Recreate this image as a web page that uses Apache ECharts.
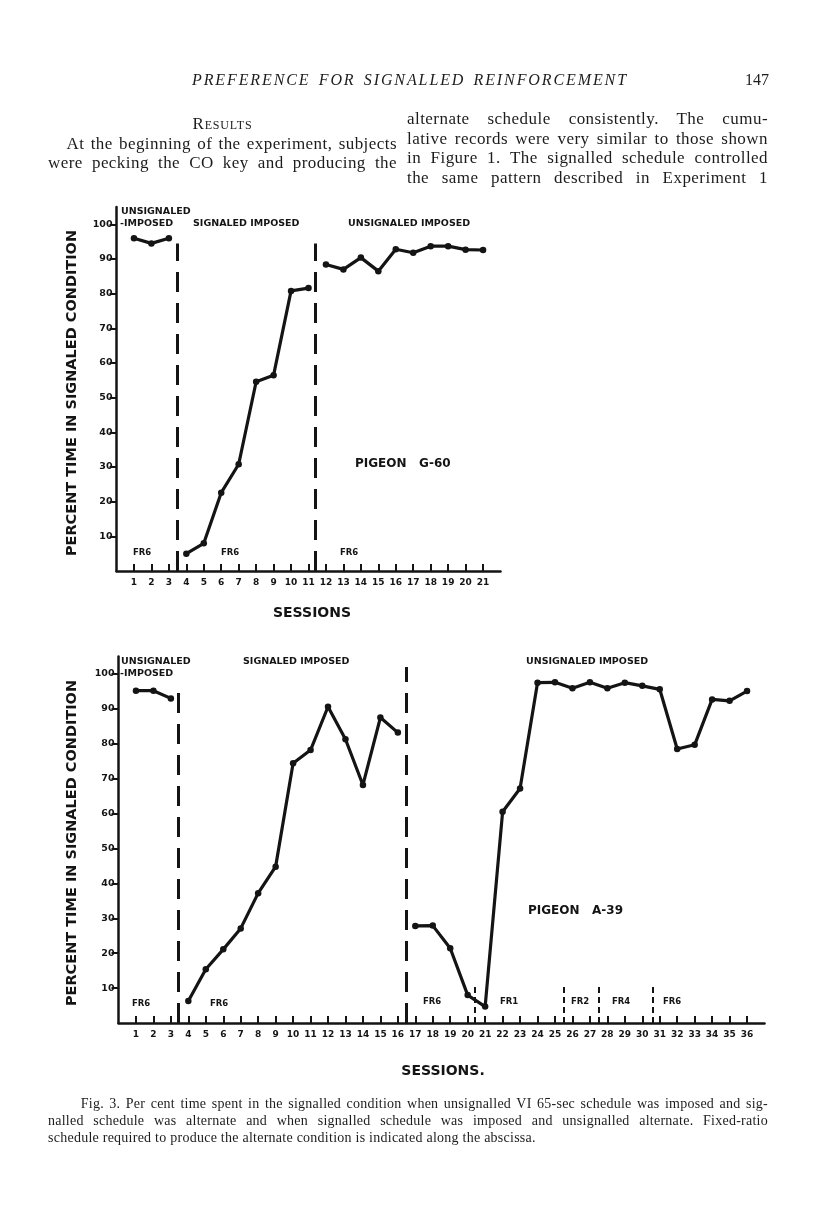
<!DOCTYPE html>
<html>
<head>
<meta charset="utf-8">
<script src="https://cdn.jsdelivr.net/npm/echarts@6/dist/echarts.min.js"></script>
<style>
body { margin: 0; background: #fff; }
#page { position: relative; width: 816px; height: 1207px; overflow: hidden; }
#chart { position: absolute; left: 0; top: 0; width: 816px; height: 1207px; }
.t { position: absolute; font-family: "Liberation Serif", serif; color: #1c1c1c; white-space: nowrap; }
.j { text-align: justify; text-align-last: justify; }
.body { font-size: 17px; line-height: 19px; letter-spacing: 0.45px; }
.cap { font-size: 14px; line-height: 16px; letter-spacing: 0.25px; }
</style>
</head>
<body>
<div id="page">
  <div id="chart"></div>

  <div class="t j" style="left:192px;top:71px;width:436px;font-size:16px;font-style:italic;letter-spacing:1.9px;">PREFERENCE FOR SIGNALLED REINFORCEMENT</div>
  <div class="t" style="left:745px;top:71px;font-size:16px;">147</div>

  <div class="t body" style="left:48px;top:114px;width:349px;text-align:center;font-variant:small-caps;letter-spacing:0.8px;">Results</div>
  <div class="t body j" style="left:48px;top:134px;width:349px;">&nbsp;&nbsp;&nbsp;At the beginning of the experiment, subjects</div>
  <div class="t body j" style="left:48px;top:153px;width:349px;">were pecking the CO key and producing the</div>

  <div class="t body j" style="left:407px;top:109px;width:361px;">alternate schedule consistently. The cumu-</div>
  <div class="t body j" style="left:407px;top:129px;width:361px;">lative records were very similar to those shown</div>
  <div class="t body j" style="left:407px;top:148px;width:361px;">in Figure 1. The signalled schedule controlled</div>
  <div class="t body j" style="left:407px;top:168px;width:361px;">the same pattern described in Experiment 1</div>

  <div class="t cap j" style="left:48px;top:1096px;width:720px;">&nbsp;&nbsp;&nbsp;&nbsp;&nbsp;&nbsp;Fig. 3. Per cent time spent in the signalled condition when unsignalled VI 65-sec schedule was imposed and sig-</div>
  <div class="t cap j" style="left:48px;top:1113px;width:720px;">nalled schedule was alternate and when signalled schedule was imposed and unsignalled alternate. Fixed-ratio</div>
  <div class="t cap" style="left:48px;top:1130px;">schedule required to produce the alternate condition is indicated along the abscissa.</div>
</div>

<script>
// session tick labels
const sessions1 = [1, 2, 3, 4, 5, 6, 7, 8, 9, 10, 11, 12, 13, 14, 15, 16, 17, 18, 19, 20, 21]
const sessions2 = [1, 2, 3, 4, 5, 6, 7, 8, 9, 10, 11, 12, 13, 14, 15, 16, 17, 18, 19, 20, 21,
  22, 23, 24, 25, 26, 27, 28, 29, 30, 31, 32, 33, 34, 35, 36]
const yTicks = [10, 20, 30, 40, 50, 60, 70, 80, 90, 100]

// pigeon G-60, percent time in signaled condition
const g60UnsigA = [96, 94.5, 96]                                          // sessions 1-3
const g60Sig = [5, 8, 22.6, 30.8, 54.6, 56.5, 80.8, 81.6]                 // sessions 4-11
const g60UnsigB = [88.4, 87, 90.4, 86.5, 92.8, 91.8, 93.7, 93.7, 92.7, 92.6] // sessions 12-21
const g60Phases = [3.5, 11.4]

// pigeon A-39
const a39UnsigA = [95.2, 95.2, 93]                                        // sessions 1-3
const a39Sig = [6.3, 15.4, 21.1, 27.1, 37.2, 44.8, 74.4, 78.2, 90.6, 81.3, 68.2, 87.5, 83.2] // 4-16
const a39UnsigB = [27.8, 27.9, 21.4, 8.0, 4.7, 60.5, 67.2, 97.5, 97.6, 95.9,
  97.6, 95.9, 97.5, 96.6, 95.6, 78.5, 79.7, 92.7, 92.3, 95.1]             // sessions 17-36
const a39Phases = [3.4, 16.5]
const a39FrChanges = [20.4, 25.5, 27.5, 30.6]

const ink = '#141414'
const lab = 'bold 9.5px "DejaVu Sans", sans-serif'
const frFont = 'bold 8.5px "DejaVu Sans", sans-serif'
const bigFont = 'bold 12px "DejaVu Sans", sans-serif'
const sessFont = 'bold 14px "DejaVu Sans", sans-serif'

function pts (vals, start) {
  return vals.map((v, i) => [start + i, v])
}

function lineSeries (idx, vals, start, marks) {
  let s = {
    type: 'line',
    xAxisIndex: idx,
    yAxisIndex: idx,
    data: pts(vals, start),
    symbol: 'circle',
    symbolSize: 6.5,
    itemStyle: { color: ink },
    lineStyle: { color: ink, width: 3.2 },
    animation: false,
    silent: true
  }
  if (marks) s.markLine = marks
  return s
}

function dashes (list, width, dash) {
  return {
    silent: true,
    symbol: 'none',
    animation: false,
    label: { show: false },
    lineStyle: { color: ink, width: width, type: dash },
    data: list.map(d => [{ coord: [d[0], 0] }, { coord: [d[0], d[1]] }])
  }
}

function xAxisFor (idx, max, ticks) {
  return {
    type: 'value', gridIndex: idx, min: 0, max: max,
    axisLine: { lineStyle: { color: ink, width: 2.5 } },
    axisTick: { inside: true, length: 7, customValues: ticks, lineStyle: { color: ink, width: 2 } },
    axisLabel: { customValues: ticks, color: ink, fontSize: 9, fontWeight: 'bold', fontFamily: 'DejaVu Sans', margin: 7 },
    splitLine: { show: false }
  }
}

function yAxisFor (idx) {
  return {
    type: 'value', gridIndex: idx, min: 0, max: 105,
    axisLine: { show: true, lineStyle: { color: ink, width: 2.5 } },
    axisTick: { length: 7, customValues: yTicks, lineStyle: { color: ink, width: 2 } },
    axisLabel: { customValues: yTicks, color: ink, fontSize: 9.5, fontWeight: 'bold', fontFamily: 'DejaVu Sans', margin: 4 },
    splitLine: { show: false }
  }
}

function txt (text, x, y, font, align) {
  return { type: 'text', x: x, y: y, silent: true,
    style: { text: text, font: font || lab, fill: ink, align: align || 'left', verticalAlign: 'middle' } }
}

function vtxt (text, x, y) {
  return { type: 'text', x: x, y: y, rotation: Math.PI / 2, silent: true,
    style: { text: text, font: 'bold 14.5px "DejaVu Sans", sans-serif', fill: ink, align: 'center', verticalAlign: 'middle' } }
}

let option = {
  backgroundColor: '#fff',
  grid: [
    { left: 116.5, top: 207, width: 384, height: 364 },
    { left: 118.5, top: 656.5, width: 646, height: 366.5 }
  ],
  xAxis: [xAxisFor(0, 22, sessions1), xAxisFor(1, 37, sessions2)],
  yAxis: [yAxisFor(0), yAxisFor(1)],
  series: [
    lineSeries(0, g60UnsigA, 1, dashes(g60Phases.map(p => [p, 94.5]), 3, [20, 11])),
    lineSeries(0, g60Sig, 4),
    lineSeries(0, g60UnsigB, 12),
    lineSeries(1, a39UnsigA, 1, dashes([[a39Phases[0], 94.8], [a39Phases[1], 102]], 3, [20, 11])),
    lineSeries(1, a39Sig, 4),
    lineSeries(1, a39UnsigB, 17, dashes(a39FrChanges.map(p => [p, 11]), 2, [6, 4]))
  ],
  graphic: [
    // G-60
    txt('UNSIGNALED', 121, 212),
    txt('-IMPOSED', 120, 224),
    txt('SIGNALED IMPOSED', 193, 224),
    txt('UNSIGNALED IMPOSED', 348, 224),
    txt('PIGEON   G-60', 355, 464, bigFont),
    txt('FR6', 133, 553, frFont),
    txt('FR6', 221, 553, frFont),
    txt('FR6', 340, 553, frFont),
    txt('SESSIONS', 312, 613, sessFont, 'center'),
    vtxt('PERCENT TIME IN SIGNALED CONDITION', 72, 393),
    // A-39
    txt('UNSIGNALED', 121, 662),
    txt('-IMPOSED', 120, 674),
    txt('SIGNALED IMPOSED', 243, 662),
    txt('UNSIGNALED IMPOSED', 526, 662),
    txt('PIGEON   A-39', 528, 911, bigFont),
    txt('FR6', 132, 1004, frFont),
    txt('FR6', 210, 1004, frFont),
    txt('FR6', 423, 1002, frFont),
    txt('FR1', 500, 1002, frFont),
    txt('FR2', 571, 1002, frFont),
    txt('FR4', 612, 1002, frFont),
    txt('FR6', 663, 1002, frFont),
    txt('SESSIONS.', 443, 1071, sessFont, 'center'),
    vtxt('PERCENT TIME IN SIGNALED CONDITION', 72, 843)
  ]
}

let chart = echarts.init(document.getElementById('chart'))
chart.setOption(option)
</script>
</body>
</html>
